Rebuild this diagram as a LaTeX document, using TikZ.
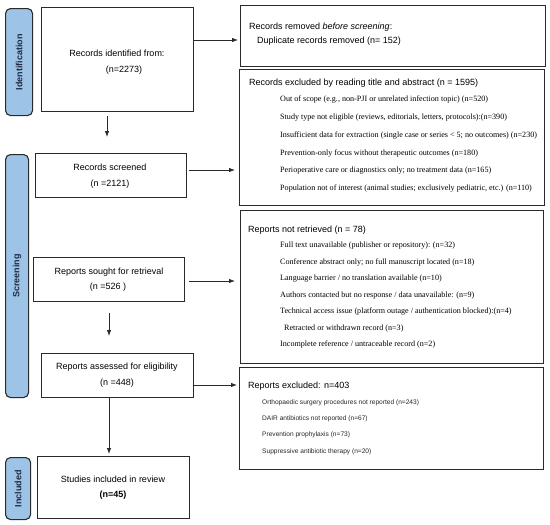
\documentclass[tikz,border=0pt]{standalone}
\usepackage{fontspec}
\setmainfont{Liberation Serif}
\setsansfont{Liberation Sans}
\usetikzlibrary{arrows.meta,calc}
\definecolor{bandfill}{HTML}{9DC3E6}
\definecolor{bandtext}{HTML}{1F2A44}
\definecolor{edgec}{HTML}{2A2A2A}
\begin{document}
\begin{tikzpicture}[x=1pt,y=-1pt,
  band/.style={draw=edgec,line width=1.1pt,fill=bandfill,rounded corners=5pt,anchor=north west,inner sep=0pt},
  bandlbl/.style={rotate=90,font=\sffamily\bfseries\fontsize{9}{10}\selectfont,text=bandtext,inner sep=0pt},
  box/.style={draw=edgec,line width=1.1pt,anchor=north west,inner sep=0pt},
  ltxt/.style={font=\sffamily\fontsize{9}{11}\selectfont,inner sep=0pt},
  rtitle/.style={font=\sffamily\fontsize{9}{11}\selectfont,inner sep=0pt,anchor=west},
  ritem/.style={font=\rmfamily\fontsize{8.1}{10}\selectfont,inner sep=0pt,anchor=west},
  rsmall/.style={font=\sffamily\fontsize{6.6}{8}\selectfont,inner sep=0pt,anchor=west,text=black!85},
  arr/.style={draw=edgec,line width=0.8pt,-{Latex[length=6pt,width=4.5pt]}}]
\useasboundingbox (0,0) rectangle (550,525);
% phase bands
\node[band,minimum width=27pt,minimum height=107pt] (bid) at (5,8) {};
\node[bandlbl] (lid) at (bid.center) {Identification};
\node[band,minimum width=23pt,minimum height=243pt] (bsc) at (5,154) {};
\node[bandlbl] (lsc) at (bsc.center) {Screening};
\node[band,minimum width=25pt,minimum height=62pt] (bin) at (5,457) {};
\node[bandlbl] (lin) at (bin.center) {Included};
% left boxes
\node[box,minimum width=152pt,minimum height=104pt] (ident) at (41,7) {};
\node[ltxt] (t1a) at (117,53) {Records identified from:};
\node[ltxt] (t1b) at (124,70) {(n=2273)};
\node[box,minimum width=151pt,minimum height=44pt] (screened) at (35,153) {};
\node[ltxt] (t2a) at (110,167) {Records screened};
\node[ltxt] (t2b) at (110,184) {(n =2121)};
\node[box,minimum width=151pt,minimum height=44pt] (sought) at (33,257) {};
\node[ltxt] (t3a) at (109,272) {Reports sought for retrieval};
\node[ltxt] (t3b) at (108,287) {(n =526 )};
\node[box,minimum width=152pt,minimum height=44pt] (assessed) at (41,353) {};
\node[ltxt] (t4a) at (117,367) {Reports assessed for eligibility};
\node[ltxt] (t4b) at (117,383) {(n =448)};
\node[box,minimum width=152pt,minimum height=62pt] (studies) at (37,456) {};
\node[ltxt] (t5a) at (113,479) {Studies included in review};
\node[ltxt] (t5b) at (113,495) {\bfseries (n=45)};
% right boxes
\node[box,minimum width=305pt,minimum height=61pt] (removed) at (240,5) {};
\node[rtitle] (r1a) at (249,27) {Records removed \textit{before screening}:};
\node[rtitle] (r1b) at (257,41) {Duplicate records removed (n= 152)};
\node[box,minimum width=305pt,minimum height=136pt] (excl) at (239,69) {};
\node[rtitle] (r2t) at (249,83) {Records excluded by reading title and abstract (n = 1595)};
\node[ritem] (r2a) at (280,100) {Out of scope (e.g., non-PJI or unrelated infection topic) (n=520)};
\node[ritem] (r2b) at (280,117.7) {Study type not eligible (reviews, editorials, letters, protocols):(n=390)};
\node[ritem] (r2c) at (280,135.4) {Insufficient data for extraction (single case or series < 5; no outcomes) (n=230)};
\node[ritem] (r2d) at (280,153.1) {Prevention-only focus without therapeutic outcomes (n=180)};
\node[ritem] (r2e) at (280,170.8) {Perioperative care or diagnostics only; no treatment data (n=165)};
\node[ritem] (r2f) at (280,188.5) {Population not of interest (animal studies; exclusively pediatric, etc.) (n=110)};
\node[box,minimum width=303pt,minimum height=153pt] (notret) at (240,210) {};
\node[rtitle] (r3t) at (248,230) {Reports not retrieved (n = 78)};
\node[ritem] (r3a) at (280,246) {Full text unavailable (publisher or repository): (n=32)};
\node[ritem] (r3b) at (280,262.5) {Conference abstract only; no full manuscript located (n=18)};
\node[ritem] (r3c) at (280,279) {Language barrier / no translation available (n=10)};
\node[ritem] (r3d) at (280,295.5) {Authors contacted but no response / data unavailable: (n=9)};
\node[ritem] (r3e) at (280,312) {Technical access issue (platform outage / authentication blocked):(n=4)};
\node[ritem] (r3f) at (284,328.5) {Retracted or withdrawn record (n=3)};
\node[ritem] (r3g) at (280,345) {Incomplete reference / untraceable record (n=2)};
\node[box,minimum width=304pt,minimum height=102pt] (rexcl) at (239,367) {};
\node[rtitle] (r4t) at (248,386) {Reports excluded: n=403};
\node[rsmall] (r4a) at (262,403) {Orthopaedic surgery procedures not reported (n=243)};
\node[rsmall] (r4b) at (262,419) {DAIR antibiotics not reported (n=67)};
\node[rsmall] (r4c) at (262,435) {Prevention prophylaxis (n=73)};
\node[rsmall] (r4d) at (262,452) {Suppressive antibiotic therapy (n=20)};
% connectors
\draw[arr,shorten >=2pt] (ident.east |- 0,40) -- (removed.west |- 0,40);
\draw[arr,shorten <=2pt,shorten >=4pt] (screened.east |- 0,170) -- (excl.west |- 0,170);
\draw[arr,shorten <=4pt,shorten >=5pt] (sought.east |- 0,281) -- (notret.west |- 0,281);
\draw[arr,shorten >=2pt] (assessed.east |- 0,385) -- (rexcl.west |- 0,385);
\draw[arr,shorten <=4pt,shorten >=16pt] (ident.south -| 107,0) -- (screened.north -| 107,0);
\draw[arr,shorten <=11pt,shorten >=17pt] (sought.south -| 109,0) -- (assessed.north -| 109,0);
\draw[arr,shorten >=2pt] (assessed.south -| 109,0) -- (studies.north -| 109,0);
\end{tikzpicture}
\end{document}
